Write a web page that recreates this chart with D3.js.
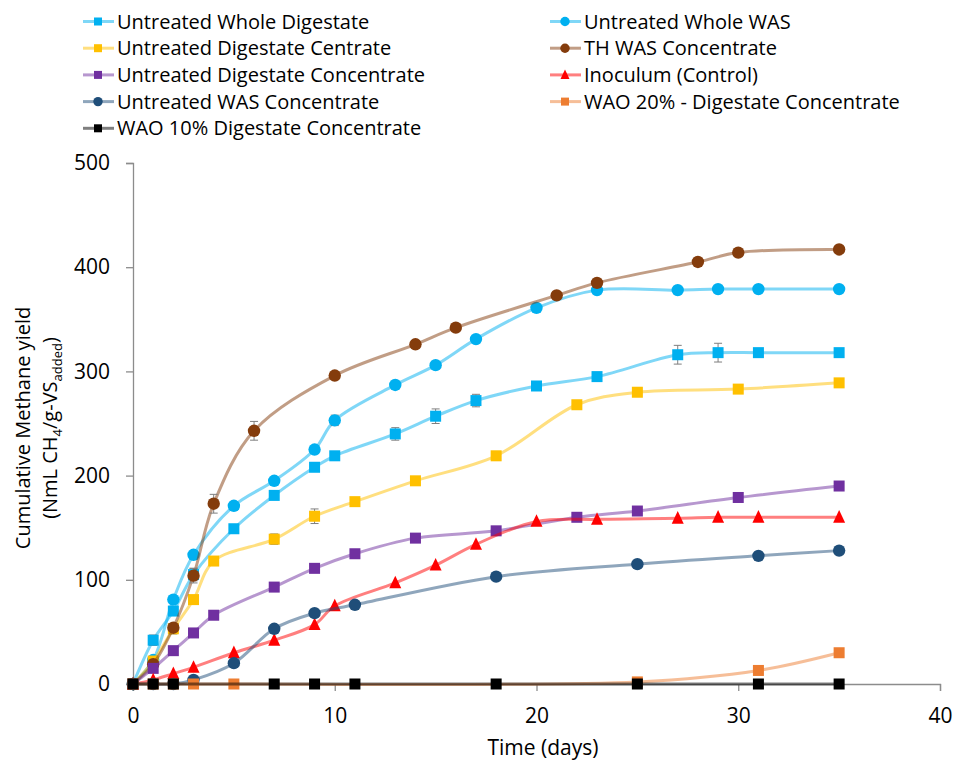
<!DOCTYPE html>
<html>
<head>
<meta charset="utf-8">
<script src="https://cdn.jsdelivr.net/npm/d3@7"></script>
<style>
  body { margin: 0; background: #fff; }
  text { font-family: "Open Sans", "Noto Sans", sans-serif; fill: #000; }
</style>
</head>
<body>
<div id="chart"></div>
<script>
// data (days, NmL CH4/g-VS added)
var wholeDigDays = [0, 1, 2, 3, 5, 7, 9, 10, 13, 15, 17, 20, 23, 27, 29, 31, 35];
var wholeDigVals = [0, 42, 70, 105, 149, 181, 208, 219, 240, 257, 272, 286, 295, 316, 318, 318, 318];
var wholeDigErr  = [0, 5, 0, 6, 0, 4, 0, 0, 6, 7, 6, 0, 0, 9, 9, 0, 0];

var wholeWasDays = [0, 1, 2, 3, 5, 7, 9, 10, 13, 15, 17, 20, 23, 27, 29, 31, 35];
var wholeWasVals = [0, 23, 81, 124, 171, 195, 225, 253, 287, 306, 331, 361, 378, 378, 379, 379, 379];
var wholeWasErr  = [0, 0, 0, 0, 0, 0, 0, 5, 0, 0, 0, 0, 0, 0, 0, 0, 0];

var centrateDays = [0, 1, 2, 3, 4, 7, 9, 11, 14, 18, 22, 25, 30, 35];
var centrateVals = [0, 22, 53, 81, 118, 139, 161, 175, 195, 219, 268, 280, 283, 289];
var centrateErr  = [0, 0, 5, 0, 0, 5, 7, 0, 0, 0, 0, 0, 0, 0];

var thWasDays = [0, 1, 2, 3, 4, 6, 10, 14, 16, 21, 23, 28, 30, 35];
var thWasVals = [0, 19, 54, 104, 173, 243, 296, 326, 342, 373, 385, 405, 414, 417];
var thWasErr  = [0, 0, 0, 7, 9, 9, 0, 0, 0, 0, 0, 0, 0, 0];

var digConcDays = [0, 1, 2, 3, 4, 7, 9, 11, 14, 18, 22, 25, 30, 35];
var digConcVals = [0, 15, 32, 49, 66, 93, 111, 125, 140, 147, 160, 166, 179, 190];

var inocDays = [0, 1, 2, 3, 5, 7, 9, 10, 13, 15, 17, 20, 23, 27, 29, 31, 35];
var inocVals = [0, 4, 10, 16, 30, 42, 57, 75, 97, 114, 134, 156, 158, 159, 160, 160, 160];

var wasConcDays = [0, 1, 2, 3, 5, 7, 9, 11, 18, 25, 31, 35];
var wasConcVals = [0, 0, 0, 4, 20, 53, 68, 76, 103, 115, 123, 128];

var wao20Days = [0, 1, 2, 3, 5, 25, 31, 35];
var wao20Vals = [0, 0, 0, 0, 0, 2, 13, 30];

var wao10Days = [0, 1, 2, 7, 9, 11, 18, 25, 31, 35];
var wao10Vals = [0, 0, 0, 0, 0, 0, 0, 0, 0, 0];

var xTicks = [0, 10, 20, 30, 40];
var yTicks = [0, 100, 200, 300, 400, 500];

var series = [
  {name: "Untreated Whole Digestate", days: wholeDigDays, vals: wholeDigVals, err: wholeDigErr, color: "#00b0f0", shape: "square"},
  {name: "Untreated Whole WAS", days: wholeWasDays, vals: wholeWasVals, err: wholeWasErr, color: "#00b0f0", shape: "circle"},
  {name: "Untreated Digestate Centrate", days: centrateDays, vals: centrateVals, err: centrateErr, color: "#ffc000", shape: "square"},
  {name: "TH WAS Concentrate", days: thWasDays, vals: thWasVals, err: thWasErr, color: "#843c0c", shape: "circle"},
  {name: "Untreated Digestate Concentrate", days: digConcDays, vals: digConcVals, color: "#7030a0", shape: "square"},
  {name: "Inoculum (Control)", days: inocDays, vals: inocVals, color: "#ff0000", shape: "triangle"},
  {name: "Untreated WAS Concentrate", days: wasConcDays, vals: wasConcVals, color: "#1f4e79", shape: "circle"},
  {name: "WAO 20% - Digestate Concentrate", days: wao20Days, vals: wao20Vals, color: "#ed7d31", shape: "square"},
  {name: "WAO 10% Digestate Concentrate", days: wao10Days, vals: wao10Vals, color: "#000000", shape: "square"}
];

var svgWidth = 954;
var svgHeight = 762;
var margin = {top: 163, right: 14, bottom: 78, left: 133};
var width = svgWidth - margin.left - margin.right;
var height = svgHeight - margin.top - margin.bottom;

var svg = d3.select("#chart")
  .append("svg")
  .attr("width", svgWidth)
  .attr("height", svgHeight);

var chartGroup = svg.append("g")
  .attr("transform", `translate(${margin.left}, ${margin.top})`);

var xScale = d3.scaleLinear().domain([0, 40]).range([0, width]);
var yScale = d3.scaleLinear().domain([0, 500]).range([height, 0]);

// axes
var axisColor = "#8c8c8c";
var xAxis = chartGroup.append("g")
  .attr("transform", `translate(0, ${height})`)
  .call(d3.axisBottom(xScale).tickValues(xTicks).tickSize(7).tickPadding(17));
var yAxis = chartGroup.append("g")
  .call(d3.axisLeft(yScale).tickValues(yTicks).tickSize(7).tickPadding(16));
[xAxis, yAxis].forEach(function(ax) {
  ax.select(".domain").attr("stroke", axisColor).attr("stroke-width", 1.3);
  ax.selectAll(".tick line").attr("stroke", axisColor).attr("stroke-width", 1.3);
  ax.selectAll(".tick text").style("font-size", "21px").style("font-family", "'Open Sans', sans-serif").attr("fill", "#000");
});

// axis titles
svg.append("text")
  .attr("x", 543)
  .attr("y", 755)
  .attr("text-anchor", "middle")
  .style("font-size", "21px")
  .text("Time (days)");

var yTitle = svg.append("g")
  .attr("transform", "translate(0, 428) rotate(-90)");
yTitle.append("text")
  .attr("x", 0).attr("y", 30)
  .attr("text-anchor", "middle")
  .style("font-size", "20px")
  .text("Cumulative Methane yield");
var t2 = yTitle.append("text")
  .attr("x", 0).attr("y", 57)
  .attr("text-anchor", "middle")
  .style("font-size", "20px");
t2.append("tspan").text("(NmL CH");
t2.append("tspan").attr("dy", 5).style("font-size", "13px").text("4");
t2.append("tspan").attr("dy", -5).text("/g-VS");
t2.append("tspan").attr("dy", 5).style("font-size", "13px").text("added");
t2.append("tspan").attr("dy", -5).text(")");

function drawMarker(g, shape, color, size) {
  if (shape === "square") {
    g.append("rect")
      .attr("x", -size / 2).attr("y", -size / 2)
      .attr("width", size).attr("height", size)
      .attr("fill", color);
  } else if (shape === "circle") {
    g.append("circle").attr("r", size / 2 + 0.7).attr("fill", color);
  } else {
    var s = size + 1;
    g.append("path")
      .attr("d", `M0,${-s * 0.6}L${s / 2},${s * 0.45}L${-s / 2},${s * 0.45}Z`)
      .attr("fill", color);
  }
}

var line = d3.line()
  .x(d => xScale(d[0]))
  .y(d => yScale(d[1]))
  .curve(d3.curveCatmullRom.alpha(0.5));

series.forEach(function(s) {
  var pts = s.days.map((d, i) => [d, s.vals[i], s.err ? s.err[i] : 0]);
  var g = chartGroup.append("g");

  g.append("path")
    .datum(pts)
    .attr("d", line)
    .attr("fill", "none")
    .attr("stroke", s.color)
    .attr("stroke-opacity", 0.5)
    .attr("stroke-width", 3);

  // error bars
  pts.filter(p => p[2] > 0).forEach(function(p) {
    var x = xScale(p[0]);
    var eb = g.append("g").attr("stroke", "#7f7f7f").attr("stroke-width", 1);
    eb.append("line").attr("x1", x).attr("x2", x).attr("y1", yScale(p[1] - p[2])).attr("y2", yScale(p[1] + p[2]));
    eb.append("line").attr("x1", x - 4).attr("x2", x + 4).attr("y1", yScale(p[1] - p[2])).attr("y2", yScale(p[1] - p[2]));
    eb.append("line").attr("x1", x - 4).attr("x2", x + 4).attr("y1", yScale(p[1] + p[2])).attr("y2", yScale(p[1] + p[2]));
  });

  pts.forEach(function(p) {
    var m = g.append("g").attr("transform", `translate(${xScale(p[0])}, ${yScale(p[1])})`);
    drawMarker(m, s.shape, s.color, 11);
  });
});

// legend, two columns filled row by row
var legend = svg.append("g");
series.forEach(function(s, i) {
  var col = i % 2;
  var row = Math.floor(i / 2);
  var lx = col === 0 ? 83 : 550;
  var ly = 21.5 + row * 26.7;
  var item = legend.append("g").attr("transform", `translate(${lx}, ${ly})`);
  item.append("line")
    .attr("x1", 0).attr("x2", 31)
    .attr("stroke", s.color).attr("stroke-opacity", 0.5).attr("stroke-width", 3);
  var m = item.append("g").attr("transform", "translate(15, 0)");
  drawMarker(m, s.shape, s.color, 8);
  item.append("text")
    .attr("x", 34).attr("y", 0)
    .attr("dy", "0.35em")
    .style("font-size", "20px")
    .text(s.name);
});
</script>
</body>
</html>
